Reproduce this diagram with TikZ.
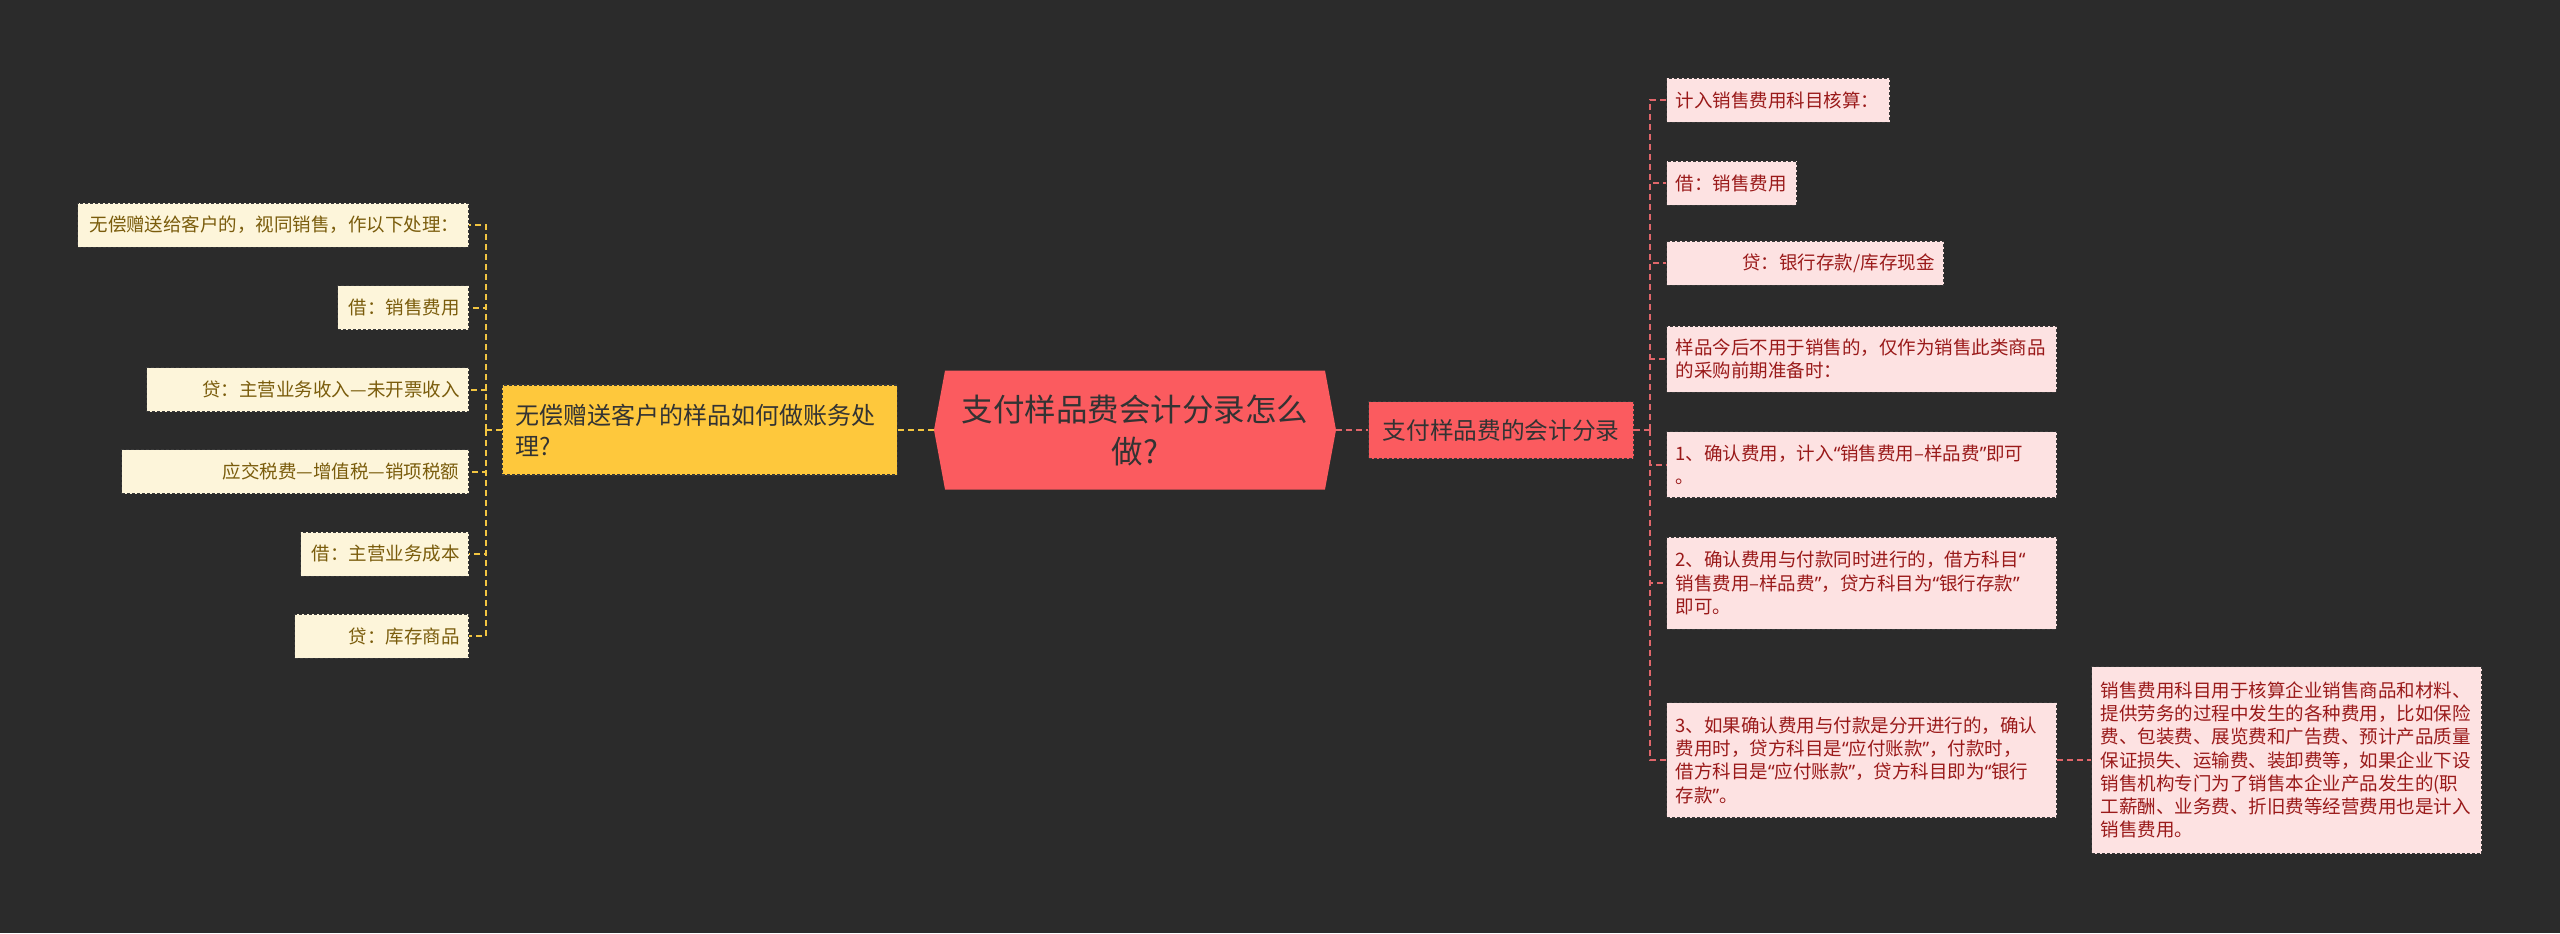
\documentclass[tikz,border=0pt]{standalone}
\usepackage{fontspec}
\usepackage{tikz}
\usetikzlibrary{positioning,shapes.symbols}
\newfontfamily\cjk{Noto Sans CJK SC}
\newfontfamily\latinq{Noto Sans}
\newcommand\ldq{{\latinq “}}
\newcommand\rdq{{\latinq ”}}
\exhyphenpenalty=10000
\hyphenpenalty=10000
\definecolor{MapBg}{HTML}{2B2B2B}
\definecolor{MapRed}{HTML}{FB5B5F}
\definecolor{MapGold}{HTML}{FEC83C}
\definecolor{MapCream}{HTML}{FDF5DA}
\definecolor{MapPink}{HTML}{FDE2E2}
\definecolor{MapInk}{HTML}{333333}
\definecolor{MapBrown}{HTML}{7A5C0C}
\definecolor{MapWine}{HTML}{9A1A1A}
\definecolor{MapRose}{HTML}{E0666A}
\definecolor{MapAmber}{HTML}{F2C541}
\definecolor{MapEdge}{HTML}{3A3A3A}

\begin{document}
\begin{tikzpicture}[
x=0.5pt, y=-0.5pt,
every node/.style={font=\cjk, inner ysep=0pt},
rootbox/.style={shape=signal, signal to=east and west, signal pointer angle=159, fill=MapRed, text=MapInk, minimum width=201pt, minimum height=59.5pt, inner xsep=8pt, align=center, font=\cjk\fontsize{15.75}{21}\selectfont},
goldbox/.style={draw=MapEdge, dash pattern=on 1.5pt off 1pt, line width=0.6pt, fill=MapGold, text=MapInk, text width=184.5pt, inner xsep=6.5pt, minimum height=45pt, align=left, font=\cjk\fontsize{12}{15.5}\selectfont},
redbox/.style={draw=MapEdge, dash pattern=on 1.5pt off 1pt, line width=0.6pt, fill=MapRed, text=MapInk, minimum width=132.5pt, minimum height=28.5pt, inner xsep=7pt, font=\cjk\fontsize{11.85}{14}\selectfont},
leftleaf/.style={draw=MapEdge, dash pattern=on 1.5pt off 1pt, line width=0.5pt, fill=MapCream, text=MapBrown, inner xsep=4.5pt, minimum height=22pt, align=right, font=\cjk\fontsize{9.25}{11.65}\selectfont},
rightleaf/.style={draw=MapEdge, dash pattern=on 1.5pt off 1pt, line width=0.5pt, fill=MapPink, text=MapWine, inner xsep=4.5pt, minimum height=22pt, align=left, font=\cjk\fontsize{9.25}{11.65}\selectfont},
amberline/.style={draw=MapAmber, line width=1pt, dash pattern=on 3pt off 2pt},
roseline/.style={draw=MapRose, line width=1pt, dash pattern=on 3pt off 2pt}
]
\useasboundingbox (0,0) rectangle (2560,933);
\fill[MapBg] (0,0) rectangle (2560,933);
\node[rootbox] (root) at (1135,430) {支付样品费会计分录怎么\\做?};
\node[goldbox, anchor=east] (gold) at (898,430) {无偿赠送客户的样品如何做账务处\\理?};
\node[redbox, anchor=west] (main) at (1368,430) {支付样品费的会计分录};
\node[leftleaf, text width=186.5pt, anchor=east] (l1) at (469,225) {无偿赠送给客户的，视同销售，作以下处理：};
\node[leftleaf, text width=56.5pt, anchor=east] (l2) at (469,307.5) {借：销售费用};
\node[leftleaf, text width=152pt, anchor=east] (l3) at (469,389.5) {贷：主营业务收入—未开票收入};
\node[leftleaf, text width=164.5pt, anchor=east] (l4) at (469,471.5) {应交税费—增值税—销项税额};
\node[leftleaf, text width=75pt, anchor=east] (l5) at (469,554) {借：主营业务成本};
\node[leftleaf, text width=78pt, anchor=east] (l6) at (469,636) {贷：库存商品};
\node[rightleaf, text width=102.5pt, anchor=west] (r1) at (1666,100) {计入销售费用科目核算：};
\node[rightleaf, text width=56pt, anchor=west] (r2) at (1666,183) {借：销售费用};
\node[rightleaf, text width=129.5pt, align=right, anchor=west] (r3) at (1666,263) {贷：银行存款/库存现金};
\node[rightleaf, text width=186pt, minimum height=33pt, anchor=west] (r4) at (1666,359) {样品今后不用于销售的，仅作为销售此类商品\\的采购前期准备时：};
\node[rightleaf, text width=186pt, minimum height=33pt, anchor=west] (r5) at (1666,464.5) {1、确认费用，计入\ldq 销售费用–样品费\rdq 即可\\。};
\node[rightleaf, text width=186pt, minimum height=46pt, anchor=west] (r6) at (1666,583) {2、确认费用与付款同时进行的，借方科目\ldq\\销售费用–样品费\rdq，贷方科目为\ldq 银行存款\rdq\\即可。};
\node[rightleaf, text width=186pt, minimum height=57.5pt, anchor=west] (r7) at (1666,760) {3、如果确认费用与付款是分开进行的，确认\\费用时，贷方科目是\ldq 应付账款\rdq，付款时，\\借方科目是\ldq 应付账款\rdq，贷方科目即为\ldq 银行\\存款\rdq。};
\node[rightleaf, text width=186pt, minimum height=93.5pt, anchor=west] (r8) at (2091,760) {销售费用科目用于核算企业销售商品和材料、\\提供劳务的过程中发生的各种费用，比如保险\\费、包装费、展览费和广告费、预计产品质量\\保证损失、运输费、装卸费等，如果企业下设\\销售机构专门为了销售本企业产品发生的(职\\工薪酬、业务费、折旧费等经营费用也是计入\\销售费用。};
\coordinate (lsp) at (486,430);
\coordinate (rsp) at (1650,430);
\draw[amberline] (root.west) -- (gold.east);
\draw[amberline] (gold.west) -- (lsp);
\draw[amberline] (lsp) |- (l1.east);
\draw[amberline] (lsp) |- (l2.east);
\draw[amberline] (lsp) |- (l3.east);
\draw[amberline] (lsp) |- (l4.east);
\draw[amberline] (lsp) |- (l5.east);
\draw[amberline] (lsp) |- (l6.east);
\draw[roseline] (root.east) -- (main.west);
\draw[roseline] (main.east) -- (rsp);
\draw[roseline] (rsp) |- (r1.west);
\draw[roseline] (rsp) |- (r2.west);
\draw[roseline] (rsp) |- (r3.west);
\draw[roseline] (rsp) |- (r4.west);
\draw[roseline] (rsp) |- (r5.west);
\draw[roseline] (rsp) |- (r6.west);
\draw[roseline] (rsp) |- (r7.west);
\draw[roseline] (r7.east) -- (r8.west);
\end{tikzpicture}
\end{document}
